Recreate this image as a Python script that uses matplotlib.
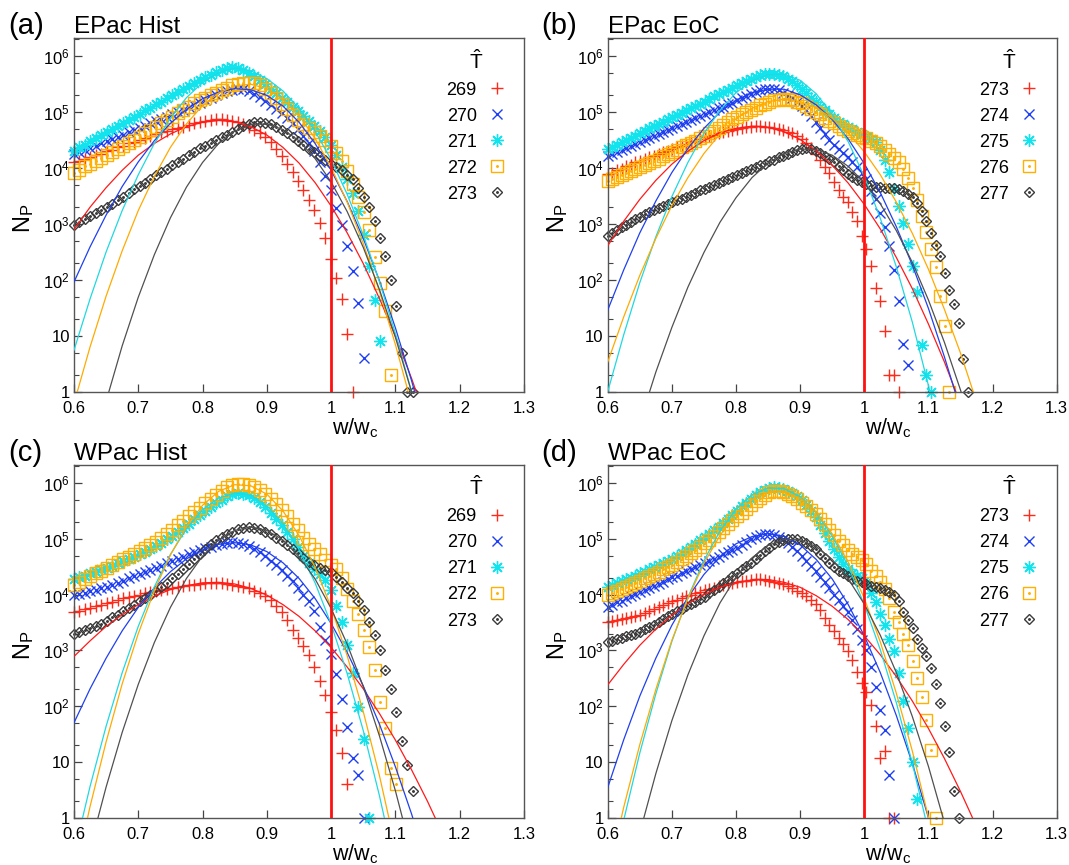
import matplotlib
matplotlib.use('Agg')
import matplotlib.pyplot as plt
import numpy as np
from matplotlib.ticker import LogLocator, NullFormatter

plt.rcParams['font.family'] = ['Liberation Sans', 'DejaVu Sans']
plt.rcParams['mathtext.default'] = 'regular'

# ---- histogram points: log10(N_P), one value per w/w_c bin, first bin at 0.6 ----
bin_width = {'a': 0.0085, 'b': 0.0072, 'c': 0.0085, 'd': 0.0072}

a_269 = [4.10,4.13,4.16,4.19,4.23,4.26,4.30,4.33,4.37,4.40,4.44,4.47,4.51,4.54,4.58,4.61,4.64,4.67,4.70,4.72,4.74,4.77,4.80,4.83,4.85,4.86,4.87,4.87,4.86,4.85,4.82,4.78,4.74,4.68,4.62,4.55,4.46,4.34,4.22,4.08,3.93,3.77,3.60,3.43,3.25,3.02,2.74,2.38,2.03,1.65,1.04,0]
a_270 = [4.25,4.29,4.33,4.36,4.40,4.44,4.48,4.52,4.56,4.60,4.64,4.68,4.72,4.76,4.80,4.84,4.88,4.92,4.96,5.00,5.04,5.09,5.13,5.17,5.21,5.26,5.30,5.34,5.37,5.40,5.42,5.41,5.38,5.33,5.27,5.20,5.13,5.06,4.98,4.90,4.80,4.69,4.58,4.45,4.31,4.10,3.86,3.60,3.29,2.98,2.60,2.16,1.58,0.60]
a_271 = [4.31,4.37,4.42,4.48,4.53,4.59,4.64,4.70,4.75,4.81,4.86,4.92,4.97,5.03,5.08,5.14,5.19,5.25,5.30,5.36,5.41,5.47,5.52,5.57,5.62,5.67,5.72,5.76,5.79,5.80,5.79,5.75,5.70,5.64,5.57,5.50,5.42,5.34,5.26,5.18,5.10,5.02,4.94,4.85,4.76,4.66,4.55,4.42,4.24,4.02,3.80,3.55,3.23,2.80,2.25,1.64,0.90]
a_272 = [3.92,3.97,4.03,4.08,4.13,4.18,4.24,4.29,4.34,4.39,4.45,4.50,4.56,4.62,4.68,4.74,4.80,4.86,4.92,4.98,5.04,5.10,5.16,5.21,5.26,5.30,5.35,5.40,5.44,5.48,5.51,5.53,5.53,5.52,5.48,5.42,5.34,5.25,5.15,5.05,4.95,4.86,4.78,4.71,4.65,4.58,4.50,4.40,4.27,4.12,3.95,3.72,3.48,3.21,2.89,2.41,1.94,1.44,0.30]
a_273 = [2.99,3.04,3.09,3.14,3.20,3.25,3.30,3.36,3.42,3.49,3.55,3.62,3.68,3.74,3.80,3.87,3.93,3.99,4.05,4.11,4.17,4.23,4.29,4.35,4.40,4.45,4.50,4.55,4.60,4.65,4.70,4.75,4.79,4.82,4.83,4.81,4.78,4.73,4.68,4.62,4.55,4.48,4.41,4.34,4.28,4.21,4.15,4.08,4.02,3.96,3.88,3.80,3.64,3.48,3.30,3.05,2.75,2.42,2.00,1.54,0.70,0,0]

b_273 = [3.89,3.92,3.96,3.99,4.03,4.06,4.10,4.13,4.16,4.19,4.22,4.25,4.28,4.31,4.34,4.37,4.40,4.43,4.46,4.49,4.52,4.55,4.58,4.60,4.62,4.64,4.66,4.68,4.70,4.72,4.73,4.74,4.75,4.75,4.74,4.73,4.72,4.70,4.68,4.65,4.62,4.57,4.52,4.45,4.36,4.25,4.14,4.02,3.92,3.75,3.60,3.48,3.39,3.22,3.05,2.79,2.55,2.25,1.86,1.62,1.08,0.30,0.30,0]
b_274 = [4.22,4.26,4.29,4.33,4.36,4.40,4.43,4.47,4.50,4.54,4.57,4.61,4.65,4.68,4.72,4.75,4.79,4.82,4.86,4.89,4.93,4.96,5.00,5.03,5.07,5.10,5.14,5.17,5.21,5.25,5.29,5.33,5.36,5.39,5.41,5.42,5.41,5.39,5.35,5.30,5.25,5.18,5.11,5.03,4.93,4.83,4.72,4.61,4.51,4.42,4.34,4.27,4.19,4.10,4.02,3.92,3.80,3.59,3.44,3.20,2.95,2.60,2.18,1.63,0.85,0.48]
b_275 = [4.34,4.38,4.42,4.46,4.50,4.54,4.58,4.62,4.67,4.71,4.75,4.79,4.83,4.87,4.91,4.95,4.99,5.03,5.07,5.11,5.15,5.19,5.24,5.28,5.32,5.36,5.40,5.44,5.48,5.52,5.56,5.60,5.63,5.66,5.68,5.69,5.69,5.67,5.64,5.60,5.55,5.49,5.42,5.34,5.26,5.18,5.10,5.03,4.96,4.89,4.83,4.78,4.73,4.69,4.65,4.61,4.56,4.52,4.46,4.32,4.14,3.93,3.62,3.33,3.02,2.65,2.25,1.78,0.83,0.30,0]
b_276 = [3.77,3.80,3.84,3.87,3.91,3.94,3.98,4.01,4.05,4.09,4.13,4.17,4.21,4.25,4.29,4.33,4.37,4.41,4.45,4.49,4.53,4.57,4.62,4.67,4.72,4.77,4.82,4.87,4.92,4.96,5.00,5.04,5.08,5.12,5.15,5.18,5.21,5.22,5.23,5.23,5.21,5.19,5.16,5.11,5.06,5.01,4.96,4.90,4.85,4.80,4.75,4.70,4.66,4.63,4.60,4.56,4.53,4.49,4.44,4.39,4.33,4.26,4.18,4.10,3.98,3.83,3.65,3.42,3.15,2.86,2.55,2.23,1.72,1.17,0]
b_277 = [2.79,2.84,2.89,2.94,2.99,3.04,3.08,3.13,3.17,3.21,3.25,3.29,3.32,3.36,3.39,3.42,3.45,3.49,3.52,3.56,3.60,3.63,3.66,3.70,3.73,3.77,3.80,3.84,3.87,3.91,3.94,3.98,4.01,4.05,4.08,4.12,4.15,4.19,4.22,4.26,4.29,4.32,4.34,4.35,4.34,4.31,4.27,4.22,4.17,4.10,4.03,3.96,3.90,3.84,3.79,3.75,3.72,3.69,3.67,3.66,3.65,3.65,3.64,3.62,3.59,3.54,3.48,3.38,3.23,3.05,2.84,2.62,2.42,2.12,1.82,1.56,1.23,0.59,0]

c_269 = [3.69,3.71,3.74,3.76,3.79,3.81,3.84,3.87,3.90,3.93,3.96,3.98,4.00,4.02,4.04,4.06,4.08,4.10,4.12,4.14,4.15,4.17,4.18,4.19,4.20,4.21,4.21,4.20,4.19,4.18,4.16,4.14,4.11,4.07,4.03,3.98,3.90,3.80,3.68,3.55,3.37,3.22,3.08,2.92,2.70,2.45,2.20,1.89,1.58,1.16,0.61]
c_270 = [3.99,4.01,4.03,4.06,4.08,4.11,4.14,4.17,4.21,4.25,4.29,4.33,4.37,4.40,4.44,4.48,4.52,4.56,4.60,4.64,4.68,4.72,4.76,4.80,4.83,4.86,4.89,4.91,4.93,4.94,4.93,4.91,4.87,4.82,4.76,4.69,4.61,4.53,4.44,4.34,4.24,4.12,4.00,3.88,3.70,3.42,3.18,2.93,2.57,2.13,1.62,1.07,0.77,0]
c_271 = [4.27,4.31,4.34,4.38,4.41,4.45,4.48,4.52,4.56,4.60,4.64,4.68,4.72,4.77,4.81,4.87,4.93,4.99,5.05,5.12,5.19,5.27,5.35,5.42,5.50,5.57,5.64,5.70,5.76,5.80,5.82,5.81,5.78,5.73,5.66,5.57,5.47,5.36,5.24,5.13,5.00,4.85,4.70,4.57,4.46,4.36,4.26,4.08,3.80,3.50,3.10,2.60,1.98,1.41,0]
c_272 = [4.17,4.23,4.28,4.33,4.38,4.43,4.48,4.53,4.58,4.63,4.68,4.73,4.78,4.83,4.88,4.94,5.01,5.08,5.16,5.24,5.32,5.40,5.48,5.56,5.64,5.72,5.79,5.86,5.92,5.96,5.98,5.98,5.96,5.92,5.87,5.80,5.72,5.62,5.52,5.40,5.27,5.15,5.02,4.91,4.82,4.73,4.62,4.53,4.45,4.30,4.10,3.88,3.65,3.36,3.06,2.65,2.08,1.60,0.89,0.60]
c_273 = [3.30,3.33,3.37,3.40,3.44,3.48,3.53,3.59,3.64,3.70,3.76,3.82,3.88,3.94,4.00,4.06,4.13,4.21,4.29,4.37,4.45,4.54,4.63,4.72,4.82,4.90,4.97,5.03,5.08,5.13,5.17,5.20,5.21,5.20,5.17,5.13,5.08,5.02,4.96,4.89,4.82,4.74,4.66,4.59,4.53,4.48,4.44,4.40,4.32,4.22,4.12,4.02,3.88,3.72,3.50,3.28,3.00,2.65,2.30,1.90,1.38,0.95,0.48]

d_273 = [3.51,3.53,3.54,3.56,3.58,3.59,3.61,3.63,3.67,3.70,3.74,3.77,3.81,3.84,3.88,3.91,3.94,3.97,4.00,4.03,4.05,4.08,4.10,4.12,4.15,4.17,4.19,4.21,4.23,4.24,4.25,4.26,4.27,4.27,4.26,4.25,4.23,4.21,4.19,4.15,4.11,4.07,4.02,3.97,3.91,3.83,3.72,3.58,3.46,3.34,3.23,3.12,2.98,2.82,2.62,2.42,2.25,2.02,1.65,1.07,1.19,0,0]
d_274 = [3.78,3.82,3.86,3.89,3.93,3.97,4.01,4.04,4.08,4.12,4.16,4.19,4.23,4.27,4.31,4.34,4.38,4.42,4.46,4.49,4.53,4.57,4.61,4.64,4.68,4.72,4.76,4.79,4.83,4.89,4.95,5.00,5.04,5.07,5.09,5.09,5.07,5.04,4.99,4.93,4.86,4.78,4.70,4.61,4.52,4.42,4.32,4.22,4.12,4.00,3.90,3.80,3.69,3.54,3.39,3.18,3.01,2.71,2.35,1.93,1.58,0.77,0]
d_275 = [4.14,4.17,4.20,4.24,4.27,4.30,4.34,4.38,4.41,4.45,4.49,4.53,4.57,4.60,4.64,4.69,4.74,4.79,4.85,4.91,4.97,5.03,5.08,5.15,5.22,5.29,5.36,5.43,5.50,5.58,5.65,5.72,5.78,5.84,5.88,5.91,5.92,5.91,5.89,5.86,5.82,5.76,5.69,5.61,5.50,5.39,5.25,5.11,4.96,4.81,4.67,4.55,4.46,4.39,4.34,4.30,4.20,4.02,3.87,3.66,3.46,3.20,2.98,2.60,2.10,1.60,1.00,0.33]
d_276 = [3.99,4.03,4.06,4.10,4.14,4.17,4.21,4.25,4.29,4.33,4.37,4.41,4.45,4.49,4.53,4.58,4.63,4.69,4.75,4.80,4.86,4.92,4.98,5.05,5.12,5.19,5.26,5.33,5.40,5.47,5.54,5.61,5.68,5.74,5.79,5.83,5.85,5.85,5.83,5.80,5.76,5.71,5.65,5.59,5.52,5.45,5.35,5.26,5.16,5.06,4.96,4.88,4.80,4.73,4.67,4.62,4.55,4.43,4.33,4.22,4.10,3.93,3.69,3.51,3.30,3.10,2.80,2.50,2.17,1.76,1.22,0]
d_277 = [3.15,3.17,3.20,3.22,3.25,3.28,3.30,3.33,3.38,3.42,3.46,3.51,3.56,3.61,3.66,3.71,3.75,3.79,3.83,3.87,3.92,3.96,4.02,4.08,4.14,4.20,4.26,4.33,4.39,4.45,4.51,4.57,4.64,4.71,4.78,4.84,4.90,4.95,4.98,5.00,5.00,4.99,4.96,4.92,4.87,4.81,4.73,4.65,4.57,4.50,4.43,4.38,4.33,4.28,4.25,4.23,4.19,4.15,4.13,4.11,4.08,4.05,4.00,3.88,3.68,3.55,3.40,3.21,3.05,2.89,2.68,2.40,2.05,1.65,1.17,0.48,0]

# ---- fitted curves: log10(N_P) at w/w_c = 0.600, 0.625, 0.650, ... ----
fit_step = 0.025

a_fit_269 = [2.90,3.30,3.65,3.96,4.23,4.44,4.61,4.74,4.82,4.85,4.83,4.74,4.59,4.37,4.09,3.74,3.32,2.84,2.29,1.67,0.99,0.24,-0.58]
a_fit_270 = [1.96,2.59,3.16,3.67,4.11,4.49,4.80,5.05,5.24,5.36,5.42,5.40,5.30,5.11,4.82,4.44,3.96,3.40,2.74,1.99,1.14,0.20,-0.83]
a_fit_271 = [0.74,1.66,2.50,3.24,3.88,4.44,4.89,5.26,5.53,5.71,5.79,5.74,5.60,5.38,5.07,4.66,4.15,3.53,2.80,1.97,1.04,0.00,-1.15]
a_fit_272 = [-0.21,0.80,1.71,2.52,3.24,3.85,4.37,4.79,5.12,5.34,5.47,5.50,5.42,5.23,4.94,4.53,4.01,3.39,2.65,1.80,0.84,-0.22]
a_fit_273 = [-2.45,-1.25,-0.17,0.82,1.69,2.45,3.11,3.66,4.10,4.44,4.66,4.78,4.79,4.69,4.49,4.17,3.75,3.22,2.58,1.83,0.97,0.00,-1.07]

b_fit_273 = [2.61,3.05,3.44,3.78,4.07,4.30,4.49,4.63,4.71,4.75,4.73,4.65,4.51,4.31,4.05,3.73,3.35,2.91,2.40,1.84,1.21,0.53,-0.22]
b_fit_274 = [1.46,2.18,2.84,3.41,3.92,4.35,4.71,5.00,5.21,5.35,5.41,5.41,5.31,5.13,4.87,4.52,4.08,3.56,2.95,2.26,1.49,0.62,-0.32]
b_fit_275 = [0.00,1.02,1.95,2.77,3.49,4.10,4.62,5.03,5.35,5.56,5.67,5.68,5.57,5.33,4.96,4.47,3.85,3.10,2.23,1.24,0.11,-1.14]
b_fit_276 = [0.53,1.34,2.08,2.74,3.33,3.83,4.26,4.61,4.88,5.07,5.19,5.23,5.19,5.08,4.89,4.63,4.29,3.88,3.39,2.83,2.19,1.47,0.69,-0.18]
b_fit_277 = [-2.62,-1.54,-0.55,0.35,1.15,1.87,2.49,3.03,3.47,3.83,4.09,4.26,4.34,4.33,4.23,4.03,3.74,3.36,2.88,2.31,1.64,0.88,0.03,-0.92]

c_fit_269 = [2.89,3.17,3.43,3.64,3.82,3.97,4.09,4.16,4.21,4.22,4.19,4.11,3.99,3.82,3.61,3.35,3.05,2.70,2.31,1.87,1.39,0.86,0.29,-0.33]
c_fit_270 = [1.70,2.31,2.86,3.35,3.77,4.12,4.41,4.64,4.80,4.90,4.93,4.89,4.77,4.57,4.29,3.93,3.48,2.96,2.36,1.68,0.91,0.07,-0.86]
c_fit_271 = [-0.65,0.56,1.64,2.60,3.43,4.14,4.72,5.18,5.52,5.73,5.82,5.78,5.59,5.27,4.81,4.21,3.47,2.58,1.56,0.40,-0.90]
c_fit_272 = [-1.10,0.20,1.36,2.40,3.30,4.07,4.71,5.22,5.60,5.85,5.97,5.95,5.80,5.50,5.06,4.49,3.77,2.90,1.90,0.76,-0.53]
c_fit_273 = [-1.75,-0.54,0.55,1.53,2.39,3.14,3.77,4.29,4.69,4.98,5.15,5.21,5.15,4.98,4.68,4.28,3.75,3.11,2.35,1.47,0.48,-0.63]

d_fit_273 = [2.38,2.75,3.09,3.38,3.63,3.84,4.00,4.13,4.22,4.26,4.27,4.22,4.13,3.98,3.79,3.55,3.26,2.92,2.53,2.09,1.60,1.06,0.47,-0.16]
d_fit_274 = [0.54,1.40,2.18,2.86,3.45,3.95,4.36,4.68,4.91,5.04,5.09,5.04,4.89,4.63,4.28,3.82,3.26,2.60,1.83,0.97,0.00,-1.07]
d_fit_275 = [-1.38,-0.04,1.16,2.22,3.16,3.95,4.61,5.14,5.53,5.79,5.91,5.90,5.75,5.47,5.05,4.51,3.82,3.01,2.06,0.97,-0.24]
d_fit_276 = [-1.06,0.19,1.31,2.30,3.18,3.93,4.56,5.06,5.44,5.70,5.84,5.85,5.73,5.48,5.09,4.58,3.93,3.15,2.23,1.19,0.01,-1.31]
d_fit_277 = [-2.75,-1.45,-0.27,0.79,1.74,2.56,3.26,3.85,4.31,4.66,4.88,4.99,4.98,4.86,4.63,4.28,3.83,3.27,2.60,1.81,0.92,-0.09]

panel_tags = ['(a)', '(b)', '(c)', '(d)']
panel_titles = ['EPac Hist', 'EPac EoC', 'WPac Hist', 'WPac EoC']
t_hat_hist = ['269', '270', '271', '272', '273']
t_hat_eoc = ['273', '274', '275', '276', '277']
x_ticks = [0.6, 0.7, 0.8, 0.9, 1.0, 1.1, 1.2, 1.3]
x_ticklabels = ['0.6', '0.7', '0.8', '0.9', '1', '1.1', '1.2', '1.3']
y_ticks = [1, 10, 1e2, 1e3, 1e4, 1e5, 1e6]
y_ticklabels = ['1', '10', '$10^2$', '$10^3$', '$10^4$', '$10^5$', '$10^6$']

panels = {
    'a': ([a_269, a_270, a_271, a_272, a_273], [a_fit_269, a_fit_270, a_fit_271, a_fit_272, a_fit_273], t_hat_hist),
    'b': ([b_273, b_274, b_275, b_276, b_277], [b_fit_273, b_fit_274, b_fit_275, b_fit_276, b_fit_277], t_hat_eoc),
    'c': ([c_269, c_270, c_271, c_272, c_273], [c_fit_269, c_fit_270, c_fit_271, c_fit_272, c_fit_273], t_hat_hist),
    'd': ([d_273, d_274, d_275, d_276, d_277], [d_fit_273, d_fit_274, d_fit_275, d_fit_276, d_fit_277], t_hat_eoc),
}

pt_colors = ['#ff2a1a', '#1f3ff0', '#12e4ee', '#ffb000', '#3a3a3a']
line_colors = ['#ff1a1a', '#2040ee', '#20d8e0', '#ffaa00', '#505050']
markers = ['+', 'x', (8, 2, 0), 's', 'D']
msizes = [8.5, 7.5, 9, 8, 5.5]

fig = plt.figure(figsize=(10.69, 8.65), dpi=100)
boxes = {
    'a': [0.0692, 0.5472, 0.4210, 0.4086],
    'b': [0.5685, 0.5472, 0.4200, 0.4086],
    'c': [0.0692, 0.0547, 0.4210, 0.4077],
    'd': [0.5685, 0.0547, 0.4200, 0.4077],
}

for n, key in enumerate('abcd'):
    ax = fig.add_axes(boxes[key])
    pts, fits, names = panels[key]
    handles = []
    for i, vals in enumerate(pts):
        x = 0.6 + bin_width[key] * np.arange(len(vals))
        y = 10.0 ** np.array(vals)
        h, = ax.plot(x, y, ls='none', marker=markers[i], ms=msizes[i], mew=1.0,
                     color=pt_colors[i], mfc='none', clip_on=False, zorder=2 + i * 0.1)
        if i >= 3:
            dot, = ax.plot(x, y, ls='none', marker='.', ms=2.2, color=pt_colors[i],
                           clip_on=False, zorder=2 + i * 0.1)
            handles.append((h, dot))
        else:
            handles.append(h)
    for i, vals in enumerate(fits):
        x = 0.6 + fit_step * np.arange(len(vals))
        ax.plot(x, 10.0 ** np.array(vals), color=line_colors[i], lw=0.9, zorder=4)
    ax.axvline(1.0, color='#ff1010', lw=2.0, zorder=5)

    ax.set_yscale('log')
    ax.set_xlim(0.6, 1.3)
    ax.set_ylim(1, 2.1e6)
    ax.set_xticks(x_ticks)
    ax.set_xticklabels(x_ticklabels)
    ax.set_yticks(y_ticks)
    ax.set_yticklabels(y_ticklabels)
    ax.yaxis.set_minor_locator(LogLocator(base=10, subs=(2.0, 5.0), numticks=20))
    ax.yaxis.set_minor_formatter(NullFormatter())
    ax.tick_params(which='both', direction='in', colors='#444444', labelcolor='black',
                   labelsize=12, top=False, right=False)
    ax.tick_params(which='major', length=6, width=0.9)
    ax.tick_params(which='minor', length=3.5, width=0.8)
    ax.tick_params(axis='x', which='major', pad=6.5)
    ax.tick_params(axis='y', which='major', pad=3)
    for s in ax.spines.values():
        s.set_color('#555555')
        s.set_linewidth(1.0)

    ax.set_ylabel('$N_P$', fontsize=17)
    ax.yaxis.set_label_coords(-0.085, 0.49)
    ax.set_xlabel('$w/w_c$', fontsize=15.5)
    ax.xaxis.set_label_coords(0.625, -0.07)

    ax.text(-0.147, 1.012, panel_tags[n], transform=ax.transAxes, fontsize=21,
            ha='left', va='baseline')
    ax.text(0.0, 1.014, panel_titles[n], transform=ax.transAxes, fontsize=17.5,
            ha='left', va='baseline')

    leg = ax.legend(handles, names, loc='upper right', bbox_to_anchor=(0.975, 0.99),
                    frameon=False, markerfirst=False, fontsize=13,
                    title=r'$\hat{T}$', title_fontsize=15, handlelength=1.0,
                    handletextpad=0.6, labelspacing=0.5, borderaxespad=0.0)
    leg.set_zorder(10)

fig.savefig('out.png', dpi=100)
